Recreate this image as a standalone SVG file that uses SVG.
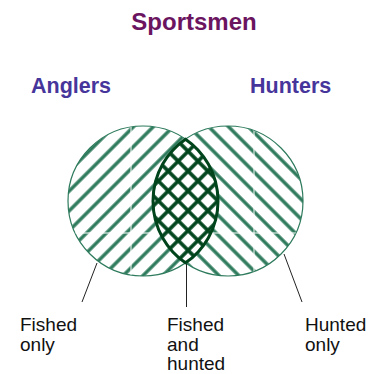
<svg xmlns="http://www.w3.org/2000/svg" width="377" height="374" viewBox="0 0 377 374">
  <style>
    .title { font-family: "Liberation Sans", Arial, sans-serif; font-weight: bold; }
    .lbl { font-family: "Liberation Sans", Arial, sans-serif; font-size: 19px; fill: #111111; }
    .leader { stroke: #222222; stroke-width: 1; fill: none; }
    .seam { stroke: #ffffff; stroke-width: 1; }
  </style>
  <defs>
    <pattern id="hatchL" patternUnits="userSpaceOnUse" width="14" height="14" patternTransform="rotate(45)">
      <line x1="2" y1="-1" x2="2" y2="15" stroke="#2d7a5c" stroke-width="3.4"/>
    </pattern>
    <pattern id="hatchR" patternUnits="userSpaceOnUse" width="14" height="14" patternTransform="rotate(-45)">
      <line x1="2" y1="-1" x2="2" y2="15" stroke="#2d7a5c" stroke-width="3.4"/>
    </pattern>
    <pattern id="cross" patternUnits="userSpaceOnUse" width="14" height="14" patternTransform="rotate(45)">
      <line x1="2" y1="-1" x2="2" y2="15" stroke="#00441c" stroke-width="3.6"/>
      <line x1="-1" y1="2" x2="15" y2="2" stroke="#00441c" stroke-width="3.6"/>
    </pattern>
    <clipPath id="clipL"><circle cx="143" cy="201" r="75"/></clipPath>
    <clipPath id="clipR"><circle cx="228" cy="201" r="75"/></clipPath>
  </defs>

  <g id="title">
    <text class="title" x="194" y="30" font-size="24" text-anchor="middle" fill="#6b1560">Sportsmen</text>
  </g>

  <g id="anglers">
    <circle cx="143" cy="201" r="75" fill="url(#hatchL)" stroke="#2d7a5c" stroke-width="1.2"/>
    <g clip-path="url(#clipL)">
      <line class="seam" x1="131" y1="120" x2="131" y2="280"/>
      <line class="seam" x1="60" y1="233" x2="230" y2="233"/>
    </g>
    <text class="title" x="31" y="93" font-size="21.5" fill="#46359a">Anglers</text>
  </g>

  <g id="hunters">
    <circle cx="228" cy="201" r="75" fill="url(#hatchR)" stroke="#2d7a5c" stroke-width="1.2"/>
    <g clip-path="url(#clipR)">
      <line class="seam" x1="254" y1="120" x2="254" y2="280"/>
      <line class="seam" x1="150" y1="233" x2="310" y2="233"/>
    </g>
    <text class="title" x="250" y="93" font-size="21.5" fill="#46359a">Hunters</text>
  </g>

  <g id="both">
    <path d="M185.5,139.2 A75,75 0 0 1 185.5,262.8 A75,75 0 0 1 185.5,139.2 Z" fill="#ffffff"/>
    <path d="M185.5,139.2 A75,75 0 0 1 185.5,262.8 A75,75 0 0 1 185.5,139.2 Z" fill="url(#cross)" stroke="#00441c" stroke-width="3"/>
  </g>

  <g id="connectors">
    <line class="leader" x1="97" y1="263" x2="82" y2="302"/>
    <line class="leader" x1="186.5" y1="264" x2="186.5" y2="307"/>
    <line class="leader" x1="284" y1="254" x2="302" y2="302"/>
  </g>

  <g id="label-fished-only">
    <text class="lbl" x="20" y="331">Fished</text>
    <text class="lbl" x="20" y="351">only</text>
  </g>
  <g id="label-both">
    <text class="lbl" x="167" y="331">Fished</text>
    <text class="lbl" x="167" y="351">and</text>
    <text class="lbl" x="167" y="370">hunted</text>
  </g>
  <g id="label-hunted-only">
    <text class="lbl" x="305" y="331">Hunted</text>
    <text class="lbl" x="305" y="351">only</text>
  </g>
</svg>
